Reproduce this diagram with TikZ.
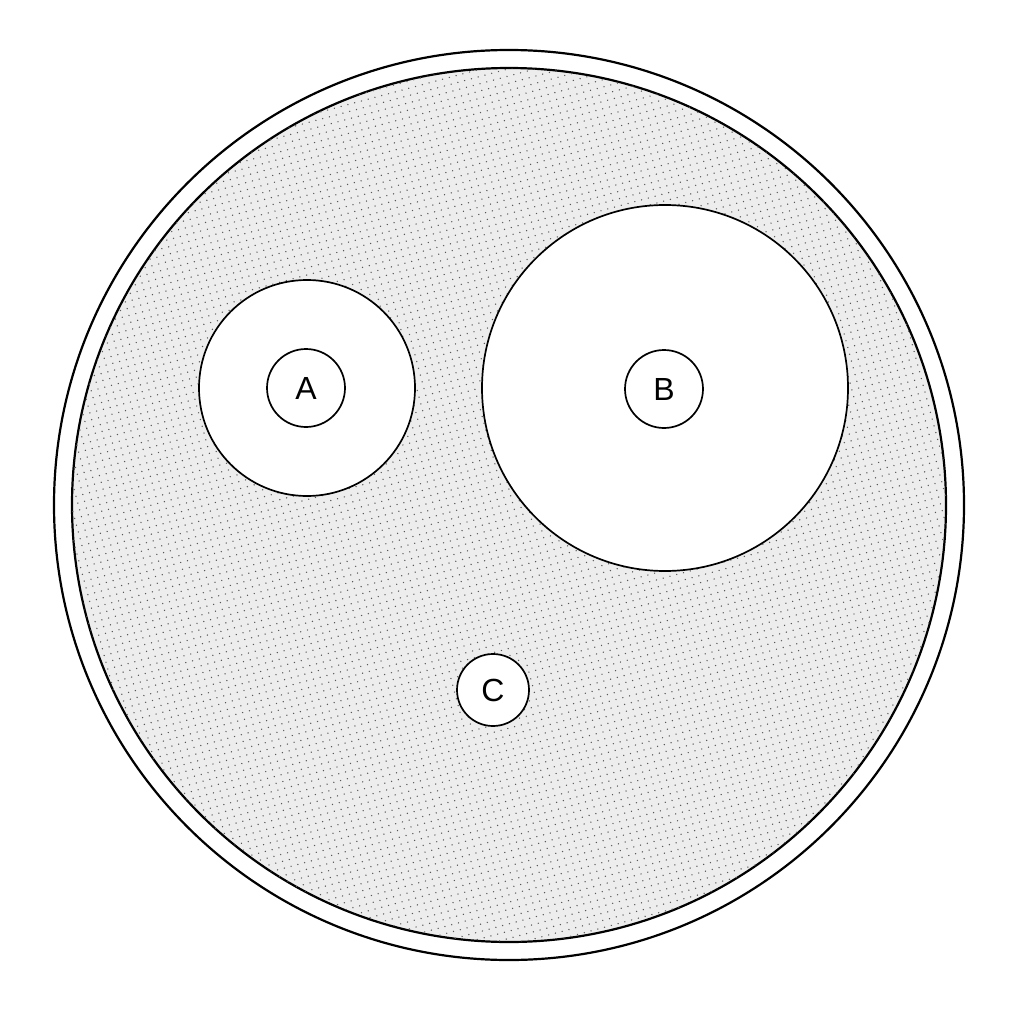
\documentclass[tikz,border=0pt]{standalone}
\usepackage{fontspec}
\setmainfont{Liberation Sans}
\usetikzlibrary{patterns.meta}
\begin{document}
\begin{tikzpicture}[x=1pt,y=-1pt,
  ring/.style={draw=black,line width=2.2pt},
  hole/.style={circle,draw=black,line width=1.7pt,fill=white,inner sep=0pt},
  lbl/.style={circle,draw=black,line width=1.7pt,fill=white,inner sep=0pt,minimum size=78pt,font=\fontsize{32}{32}\selectfont}]
\useasboundingbox (0,0) rectangle (1024,1024);
\fill[white] (0,0) rectangle (1024,1024);
\node[circle,ring,minimum size=910pt,inner sep=0pt] (outer) at (509,505) {};
\node[circle,ring,minimum size=874pt,inner sep=0pt,fill=gray!14,
  postaction={pattern={Dots[distance=7pt,radius=0.75pt,angle=15]},pattern color=gray!70!black}] (inner) at (509,505) {};
\node[hole,minimum size=216pt] (ha) at (307,388) {};
\node[hole,minimum size=366pt] (hb) at (665,388) {};
\node[lbl] (a) at (306,388) {A};
\node[lbl] (b) at (664,389) {B};
\node[lbl,minimum size=72pt] (c) at (493,690) {C};
\end{tikzpicture}
\end{document}
